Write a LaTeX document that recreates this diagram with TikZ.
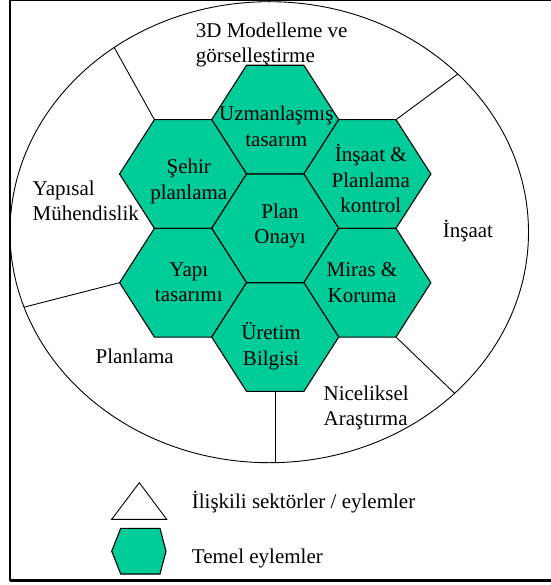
\documentclass[tikz,border=0pt]{standalone}
\usepackage{fontspec}
\setmainfont{Liberation Serif}
\usetikzlibrary{shapes.geometric}
\definecolor{hexgreen}{RGB}{0,204,153}
\tikzset{
  hexcell/.pic={
    \coordinate (-l) at (-63.5,0);
    \coordinate (-tl) at (-28.65,-54.35);
    \coordinate (-tr) at (28.65,-54.35);
    \coordinate (-r) at (63.5,0);
    \coordinate (-br) at (28.65,54.35);
    \coordinate (-bl) at (-28.65,54.35);
    \coordinate (-b) at (0,54.35);
    \draw[hexshape] (-l) -- (-tl) -- (-tr) -- (-r) -- (-br) -- (-bl) -- cycle;
  },
  hexshape/.style={draw=black, line width=1.1pt, fill=hexgreen, line join=miter},
  txt/.style={font=\fontsize{21pt}{25.5pt}\selectfont, inner sep=0pt, align=center},
  ltxt/.style={font=\fontsize{21pt}{25pt}\selectfont, inner sep=0pt, align=left},
  seg/.style={draw=black, line width=0.9pt},
}
\begin{document}
\begin{tikzpicture}[x=1pt,y=-1pt]
\useasboundingbox (0,0) rectangle (550,585);
% frame
\coordinate (ftr) at (552,0.5);
\coordinate (ftl) at (10,0.5);
\coordinate (fbl) at (10,580.5);
\coordinate (fbr) at (552,580.5);
\draw[line width=0.9pt] (ftr) -- (ftl);
\draw[line width=2pt] (ftl) -- (fbl);
\draw[line width=2.4pt] (fbl) -- (fbr);
% outer ring
\node[ellipse, draw=black, line width=0.9pt, minimum width=518.5pt, minimum height=461pt, inner sep=0pt, outer sep=0pt] (ring) at (269.25,232.2) {};
% hexagons
\pic (uz) at (275.2,119.65) {hexcell};
\pic (sh) at (183.05,174) {hexcell};
\pic (in) at (367.35,174) {hexcell};
\pic (pl) at (275.2,228.35) {hexcell};
\pic (ya) at (183.05,282.7) {hexcell};
\pic (mi) at (367.35,282.7) {hexcell};
\pic (ur) at (275.2,337.05) {hexcell};
% sector separators
\draw[seg] (sh-tl) -- (ring.130.3);
\draw[seg] (in-tr) -- (ring.40.0);
\draw[seg] (ya-l) -- (ring.197.8);
\draw[seg] (mi-br) -- (ring.319.8);
\draw[seg] (ur-b) -- (ur-b |- ring.south);
% hex texts
\node[txt] (tuz) at (276.3,126.5) {Uzmanlaşmış\\tasarım};
\node[txt] (tsh) at (188.8,181.7) {Şehir\\planlama};
\node[txt] (tin) at (370.8,178.7) {İnşaat \&\\Planlama\\kontrol};
\node[txt] (tpl) at (280,226.2) {Plan\\Onayı};
\node[txt] (tya) at (188.8,282.2) {Yapı\\tasarımı};
\node[txt] (tmi) at (362,282.8) {Miras \&\\Koruma};
\node[txt] (tur) at (271,346.2) {Üretim\\Bilgisi};
% sector labels
\node[ltxt, anchor=west] (l3d) at (195.7,45.3) {3D Modelleme ve\\görselleştirme};
\node[ltxt, anchor=west] (lyap) at (32.5,201.2) {Yapısal\\Mühendislik};
\node[ltxt, anchor=base west] (lins) at (442.7,237) {İnşaat};
\node[ltxt, anchor=base west] (lpla) at (95.4,363.7) {Planlama};
\node[ltxt, anchor=west] (lnic) at (323.4,407.8) {Niceliksel\\Araştırma};
% legend
\coordinate (ta) at (111.7,519.3);
\coordinate (tb) at (166.7,519.3);
\coordinate (tc) at (139.3,482.7);
\draw[line width=0.9pt, fill=white] (ta) -- (tb) -- (tc) -- cycle;
\coordinate (ha) at (111.7,551.2);
\coordinate (hb) at (120.7,528.4);
\coordinate (hc) at (160,528.4);
\coordinate (hd) at (166,551.2);
\coordinate (he) at (160,574);
\coordinate (hf) at (120.7,574);
\draw[hexshape] (ha) -- (hb) -- (hc) -- (hd) -- (he) -- (hf) -- cycle;
\node[ltxt, anchor=base west] (leg1) at (191.7,508.7) {İlişkili sektörler / eylemler};
\node[ltxt, anchor=base west] (leg2) at (191.7,563.7) {Temel eylemler};
\end{tikzpicture}
\end{document}
